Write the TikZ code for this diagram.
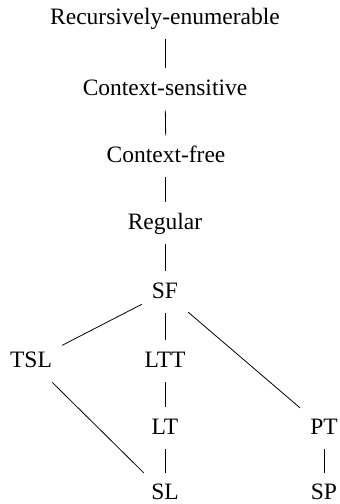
\documentclass[tikz,border=0pt]{standalone}
\usepackage{fontspec}
\setmainfont{Liberation Serif}
\begin{document}
\begin{tikzpicture}[x=1pt,y=-1pt,
  lang/.style={anchor=base,font=\fontsize{23.5}{26}\selectfont,inner sep=10pt,text height=16.5pt,text depth=5.2pt},
  link/.style={draw,line width=0.8pt}]
\useasboundingbox (0,0) rectangle (340,504);
\node[lang] (re) at (165,24) {Recursively-enumerable};
\node[lang] (cs) at (165,95) {Context-sensitive};
\node[lang] (cf) at (166,162) {Context-free};
\node[lang] (reg) at (165,229) {Regular};
\node[lang] (sf) at (165,298) {SF};
\node[lang] (tsl) at (31,367) {TSL};
\node[lang] (ltt) at (165,367) {LTT};
\node[lang] (lt) at (165,434) {LT};
\node[lang] (pt) at (324,434) {PT};
\node[lang] (sl) at (165,499.5) {SL};
\node[lang] (sp) at (324,499.5) {SP};
\path[link] (re) -- (cs);
\path[link] (cs) -- (cf);
\path[link] (cf.south -| reg) -- (reg);
\path[link] (reg) -- (sf);
\path[link] (sf) -- (tsl);
\path[link] (sf) -- (ltt);
\path[link] (sf) -- (pt);
\path[link] (ltt) -- (lt);
\path[link] (lt) -- (sl);
\path[link] (tsl) -- (sl);
\path[link] (pt) -- (sp);
\end{tikzpicture}
\end{document}
